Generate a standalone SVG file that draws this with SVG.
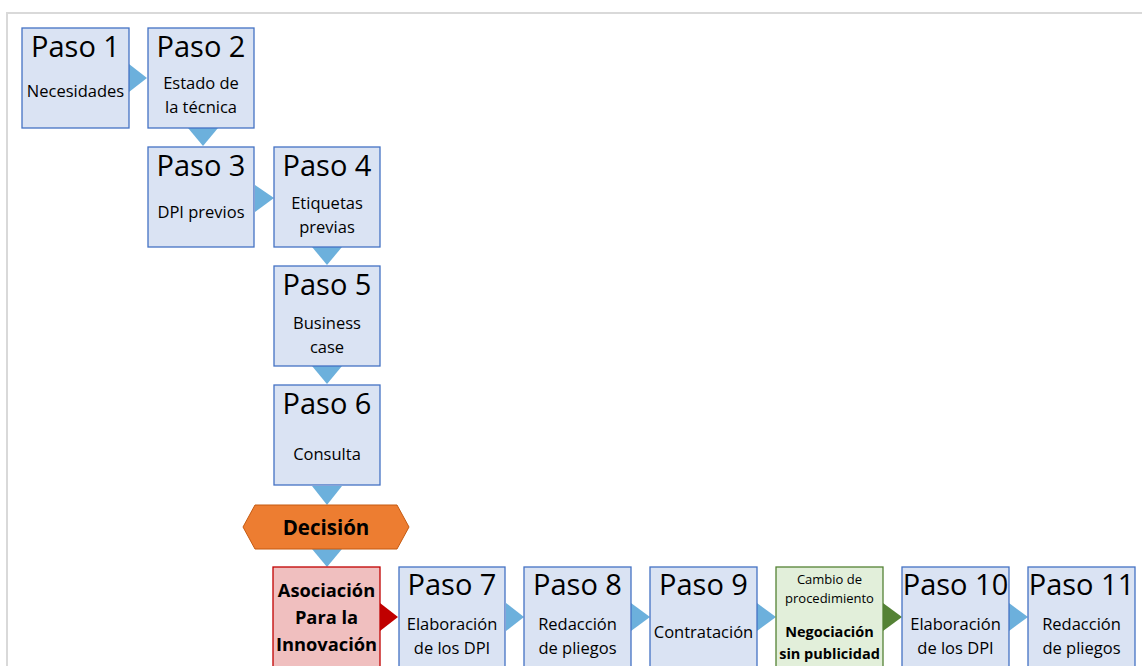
<svg xmlns="http://www.w3.org/2000/svg" width="1142" height="666" viewBox="0 0 1142 666">
<style>
.frame{fill:none;stroke:#d9d9d9;stroke-width:2}
.box{fill:#dae3f3;stroke:#4472c4;stroke-width:1.3}
.red{fill:#f0bfbf;stroke:#c00000;stroke-width:1.3}
.grn{fill:#e2efda;stroke:#548235;stroke-width:1.3}
.dec{fill:#ed7d31;stroke:#c55a11;stroke-width:1}
.ar{fill:#6cb0dc}
.arr{fill:#c00000}
.arg{fill:#548235}
text{font-family:"Open Sans","Liberation Sans",sans-serif;fill:#000;text-anchor:middle}
.h{font-size:29px}
.s{font-size:16.5px}
.b{font-weight:bold}
.t{font-size:13px}
</style>
<rect class="frame" x="7" y="13" width="1150" height="670"/>
<g id="connectors">
<polygon class="ar" points="129,64 147,78 129,92"/>
<polygon class="ar" points="188,128 218,128 203,146"/>
<polygon class="ar" points="255,185 274,198 255,212"/>
<polygon class="ar" points="312,247 342,247 327,265"/>
<polygon class="ar" points="312,366 342,366 327,384"/>
<polygon class="ar" points="312,486 342,486 327,505"/>
<polygon class="ar" points="312,549 342,549 327,567"/>
<polygon class="arr" points="380,603 398,617 380,631"/>
<polygon class="ar" points="506,603 524,617 506,631"/>
<polygon class="ar" points="631,603 650,617 631,631"/>
<polygon class="ar" points="757,603 776,617 757,631"/>
<polygon class="arg" points="883,603 902,617 883,631"/>
<polygon class="ar" points="1009,603 1028,617 1009,631"/>
</g>
<g id="paso1"><rect class="box" x="22" y="28" width="107" height="100"/><text class="h" x="75.5" y="57">Paso 1</text><text class="s" x="75.5" y="97">Necesidades</text></g>
<g id="paso2"><rect class="box" x="148" y="28" width="106" height="100"/><text class="h" x="201" y="57">Paso 2</text><text class="s" x="201" y="89">Estado de</text><text class="s" x="201" y="113">la técnica</text></g>
<g id="paso3"><rect class="box" x="148" y="147" width="106" height="100"/><text class="h" x="201" y="176">Paso 3</text><text class="s" x="201" y="218">DPI previos</text></g>
<g id="paso4"><rect class="box" x="274" y="147" width="106" height="100"/><text class="h" x="327" y="176">Paso 4</text><text class="s" x="327" y="209">Etiquetas</text><text class="s" x="327" y="233">previas</text></g>
<g id="paso5"><rect class="box" x="274" y="266" width="106" height="100"/><text class="h" x="327" y="295">Paso 5</text><text class="s" x="327" y="329">Business</text><text class="s" x="327" y="353">case</text></g>
<g id="paso6"><rect class="box" x="274" y="385" width="106" height="100"/><text class="h" x="327" y="414">Paso 6</text><text class="s" x="327" y="460">Consulta</text></g>
<g id="decision"><polygon class="dec" points="243,527 255,505 397,505 409,527 397,549 255,549"/><text class="b" x="326" y="535" font-size="20.5">Decisión</text></g>
<g id="asociacion"><rect class="red" x="273" y="567" width="107" height="105"/><text class="b" x="326.5" y="597" font-size="18.3">Asociación</text><text class="b" x="326.5" y="624" font-size="18.3">Para la</text><text class="b" x="326.5" y="651" font-size="18.3">Innovación</text></g>
<g id="paso7"><rect class="box" x="399" y="567" width="106" height="105"/><text class="h" x="452" y="595">Paso 7</text><text class="s" x="452" y="630">Elaboración</text><text class="s" x="452" y="654">de los DPI</text></g>
<g id="paso8"><rect class="box" x="524" y="567" width="107" height="105"/><text class="h" x="577.5" y="595">Paso 8</text><text class="s" x="577.5" y="630">Redacción</text><text class="s" x="577.5" y="654">de pliegos</text></g>
<g id="paso9"><rect class="box" x="650" y="567" width="107" height="105"/><text class="h" x="703.5" y="595">Paso 9</text><text class="s" x="703.5" y="638">Contratación</text></g>
<g id="cambio"><rect class="grn" x="776" y="567" width="107" height="105"/><text class="t" x="829.5" y="584">Cambio de</text><text class="t" x="829.5" y="603">procedimiento</text><text class="b" x="829.5" y="637" font-size="14.5">Negociación</text><text class="b" x="829.5" y="659" font-size="14.5">sin publicidad</text></g>
<g id="paso10"><rect class="box" x="902" y="567" width="107" height="105"/><text class="h" x="955.5" y="595">Paso 10</text><text class="s" x="955.5" y="630">Elaboración</text><text class="s" x="955.5" y="654">de los DPI</text></g>
<g id="paso11"><rect class="box" x="1028" y="567" width="107" height="105"/><text class="h" x="1081.5" y="595">Paso 11</text><text class="s" x="1081.5" y="630">Redacción</text><text class="s" x="1081.5" y="654">de pliegos</text></g>
</svg>
